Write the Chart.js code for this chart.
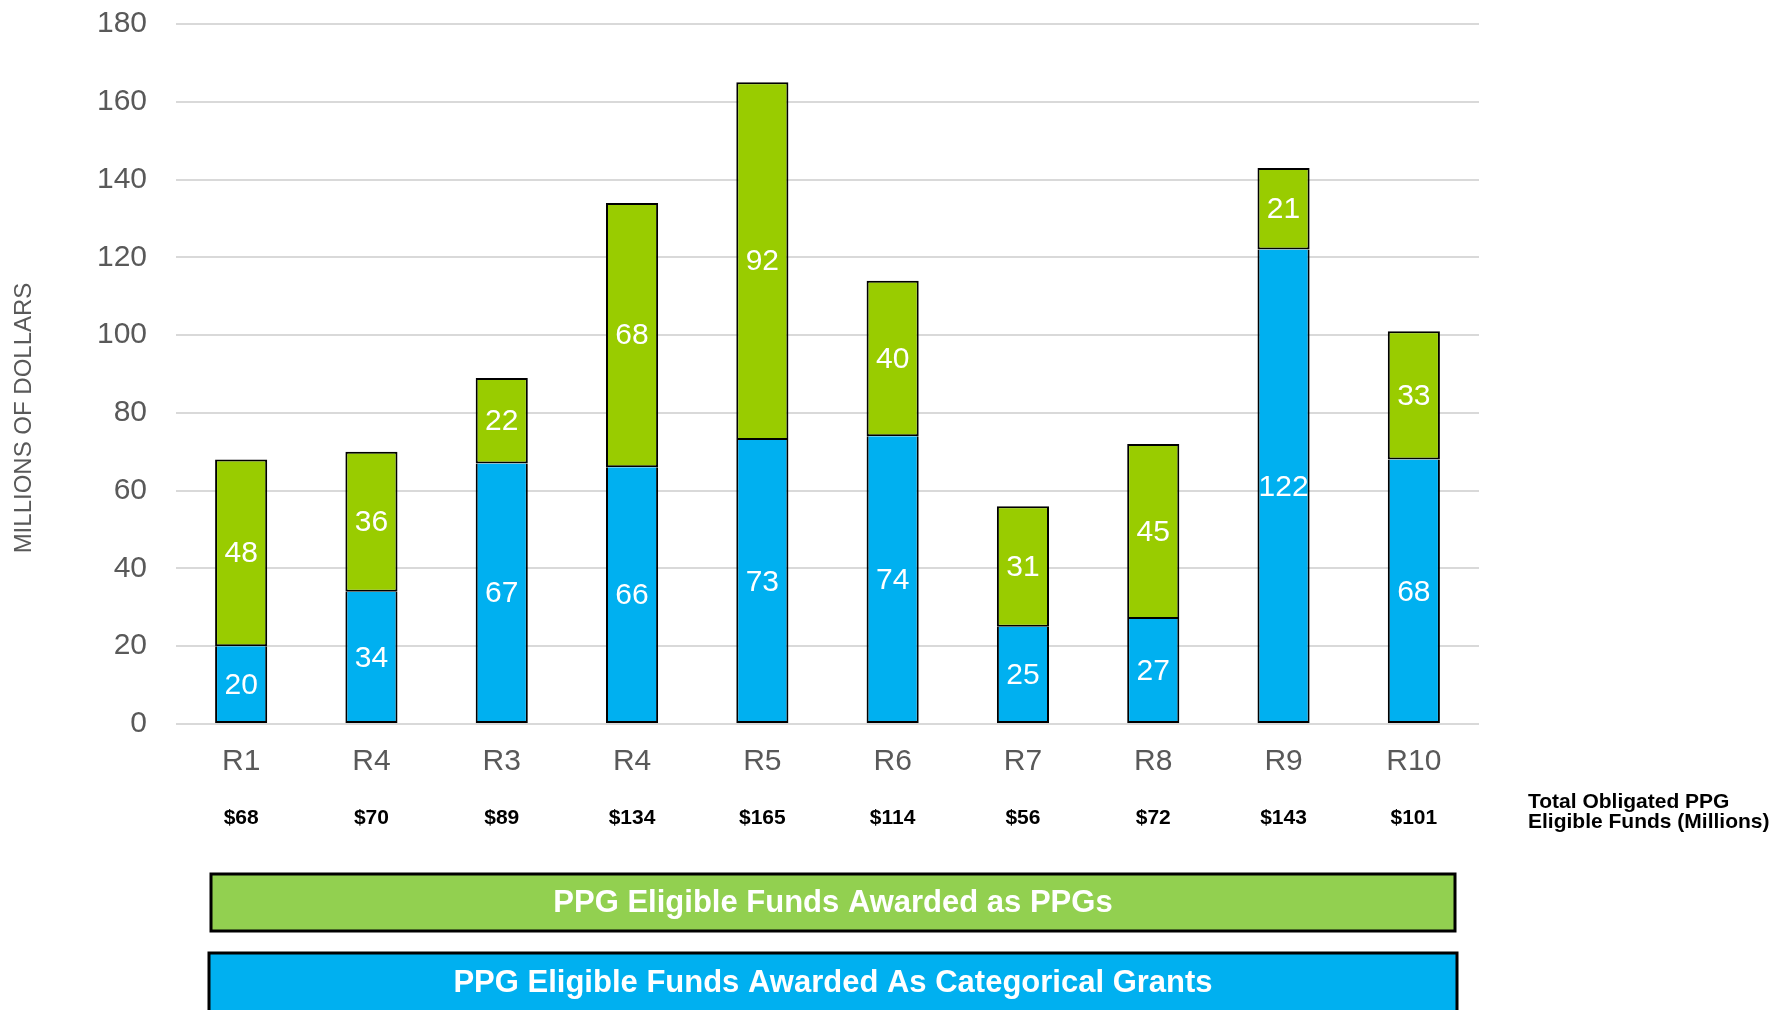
<!DOCTYPE html>
<html><head><meta charset="utf-8">
<script src="https://cdn.jsdelivr.net/npm/chart.js@4.4.1/dist/chart.umd.min.js"></script>
<style>html,body{margin:0;padding:0;background:#fff}#wrap{width:1779px;height:1010px;position:relative}</style>
</head><body><div id="wrap"><canvas id="c"></canvas></div>
<script>
const regions = ['R1','R4','R3','R4','R5','R6','R7','R8','R9','R10'];
const categoricalGrants = [20,34,67,66,73,74,25,27,122,68];
const ppgAwards = [48,36,22,68,92,40,31,45,21,33];
const totalObligated = [68,70,89,134,165,114,56,72,143,101];
const yMin = 0, yMax = 180, yStep = 20;
const seriesNames = ['PPG Eligible Funds Awarded As Categorical Grants','PPG Eligible Funds Awarded as PPGs'];
const yAxisTitle = 'MILLIONS OF DOLLARS';
const totalsCaption = ['Total Obligated PPG','Eligible Funds (Millions)'];

const FONT = "'Liberation Sans', Arial, Helvetica, sans-serif";
const GREY = '#595959';

const extras = {
  id: 'extras',
  afterDatasetsDraw(chart) {
    const ctx = chart.ctx;
    ctx.save();
    ctx.fillStyle = '#fff';
    ctx.font = '30px ' + FONT;
    ctx.textAlign = 'center';
    ctx.textBaseline = 'middle';
    chart.data.datasets.forEach((ds, di) => {
      const meta = chart.getDatasetMeta(di);
      meta.data.forEach((el, i) => {
        ctx.fillText(String(ds.data[i]), el.x, (el.y + el.base) / 2 + 1);
      });
    });
    ctx.restore();
  },
  afterDraw(chart) {
    const ctx = chart.ctx;
    const xs = chart.scales.x;
    ctx.save();
    ctx.fillStyle = '#000';
    ctx.font = 'bold 21px ' + FONT;
    ctx.textAlign = 'center';
    ctx.textBaseline = 'middle';
    totalObligated.forEach((v, i) => {
      ctx.fillText('$' + v, xs.getPixelForValue(i), 818);
    });
    ctx.textAlign = 'left';
    ctx.fillText(totalsCaption[0], 1528, 802);
    ctx.fillText(totalsCaption[1], 1528, 822);
    ctx.save();
    ctx.translate(24, 418);
    ctx.rotate(-Math.PI / 2);
    ctx.fillStyle = GREY;
    ctx.font = '24px ' + FONT;
    ctx.textAlign = 'center';
    ctx.textBaseline = 'middle';
    ctx.fillText(yAxisTitle, 0, 0);
    ctx.restore();
    const boxes = [
      {x: 211, y: 874, w: 1244, h: 57, fill: '#92D050', stroke: '#000', label: seriesNames[1], ty: 903},
      {x: 209, y: 953, w: 1248, h: 70, fill: '#00B0F0', stroke: '#000', label: seriesNames[0], ty: 983}
    ];
    boxes.forEach(b => {
      ctx.fillStyle = b.fill;
      ctx.fillRect(b.x, b.y, b.w, b.h);
      ctx.strokeStyle = b.stroke;
      ctx.lineWidth = 3;
      ctx.strokeRect(b.x, b.y, b.w, b.h);
      ctx.fillStyle = '#fff';
      ctx.font = 'bold 31px ' + FONT;
      ctx.textAlign = 'center';
      ctx.textBaseline = 'middle';
      ctx.fillText(b.label, b.x + b.w / 2, b.ty);
    });
    ctx.restore();
  }
};

new Chart(document.getElementById('c'), {
  type: 'bar',
  data: {
    labels: regions,
    datasets: [
      {label: seriesNames[0], data: categoricalGrants, backgroundColor: '#00B0F0', borderColor: '#000', borderWidth: 2, borderSkipped: 'top'},
      {label: seriesNames[1], data: ppgAwards, backgroundColor: '#99CC00', borderColor: '#000', borderWidth: 2, borderSkipped: false}
    ]
  },
  options: {
    responsive: true,
    maintainAspectRatio: false,
    animation: false,
    layout: {padding: {top: 24, right: 300, bottom: 0, left: 0}},
    datasets: {bar: {categoryPercentage: 1, barPercentage: 0.4}},
    plugins: {legend: {display: false}, tooltip: {enabled: false}},
    scales: {
      x: {
        stacked: true,
        grid: {display: false, drawTicks: false},
        border: {display: false},
        ticks: {color: GREY, font: {family: FONT, size: 30}, padding: 20, maxRotation: 0},
        afterFit(s) { s.height = 286; }
      },
      y: {
        stacked: true,
        min: yMin, max: yMax,
        grid: {color: '#D9D9D9', lineWidth: 2, drawTicks: false},
        border: {display: false},
        ticks: {stepSize: yStep, color: GREY, font: {family: FONT, size: 30}, padding: 29},
        afterFit(s) { s.width = 176; s.paddingTop = 0; s.paddingBottom = 0; }
      }
    }
  },
  plugins: [extras]
});
</script></body></html>
